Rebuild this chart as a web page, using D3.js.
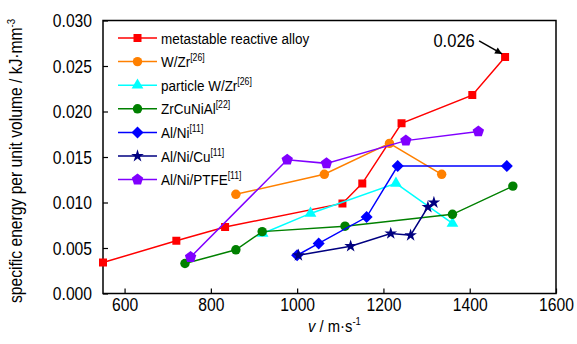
<!DOCTYPE html>
<html>
<head>
<meta charset="utf-8">
<script src="https://cdn.jsdelivr.net/npm/d3@7"></script>
<style>
  body { margin: 0; background: #fff; }
  svg text { font-family: "Liberation Sans", Arial, sans-serif; fill: #000; }
</style>
</head>
<body>
<svg id="chart" width="577" height="344"></svg>
<script>
// series data: velocity (m/s) and specific energy (kJ/mm^3)
const seriesNames = ['metastable reactive alloy', 'W/Zr', 'particle W/Zr', 'ZrCuNiAl', 'Al/Ni', 'Al/Ni/Cu', 'Al/Ni/PTFE'];
const seriesRefs = ['', '[26]', '[26]', '[22]', '[11]', '[11]', '[11]'];
const seriesColors = ['#ff0000', '#ff8000', '#00ffff', '#008000', '#0000ff', '#000080', '#8000ff'];
const seriesMarkers = ['square', 'circle', 'triangle', 'circle', 'diamond', 'star', 'pentagon'];

const alloyV = [550, 720, 833, 1105, 1151, 1242, 1406, 1482];
const alloyE = [0.0034, 0.0058, 0.0073, 0.0099, 0.0121, 0.0187, 0.0218, 0.026];
const wzrV = [858, 1063, 1214, 1335];
const wzrE = [0.0109, 0.0131, 0.0165, 0.0131];
const particleV = [920, 1031, 1229, 1360];
const particleE = [0.0066, 0.0088, 0.0121, 0.0077];
const zrcuV = [740, 858, 919, 1111, 1360, 1500];
const zrcuE = [0.0033, 0.0048, 0.0068, 0.0074, 0.0087, 0.0118];
const alniV = [1000, 1050, 1161, 1233, 1486];
const alniE = [0.0042, 0.0055, 0.0084, 0.0140, 0.0140];
const alnicuV = [1003, 1124, 1217, 1263, 1303, 1317];
const alnicuE = [0.0042, 0.0052, 0.0066, 0.0064, 0.0095, 0.0100];
const ptfeV = [753, 977, 1068, 1252, 1420];
const ptfeE = [0.0040, 0.0147, 0.0143, 0.0168, 0.0178];

const allV = [alloyV, wzrV, particleV, zrcuV, alniV, alnicuV, ptfeV];
const allE = [alloyE, wzrE, particleE, zrcuE, alniE, alnicuE, ptfeE];

const xTicks = [600, 800, 1000, 1200, 1400, 1600];
const yTicks = [0, 0.005, 0.010, 0.015, 0.020, 0.025, 0.030];
const peakLabel = '0.026';

const svg = d3.select('#chart');
const plotLeft = 103, plotRight = 556, plotTop = 20.5, plotBottom = 293.5;
const squeeze = 0.87; // narrow look of the original font

const x = d3.scaleLinear().domain([550, 1600]).range([plotLeft, plotRight]);
const y = d3.scaleLinear().domain([0, 0.030]).range([plotBottom, plotTop]);

// marker shapes
function markerPath(kind) {
  if (kind === 'square') return d3.symbol(d3.symbolSquare, 64)();
  if (kind === 'circle') return d3.symbol(d3.symbolCircle, 70)();
  if (kind === 'triangle') return d3.symbol(d3.symbolTriangle, 60)();
  if (kind === 'star') return d3.symbol(d3.symbolStar, 50)();
  if (kind === 'diamond') {
    const r = 6;
    return `M0,${-r}L${r},0L0,${r}L${-r},0Z`;
  }
  // pentagon
  const r = 6;
  const pts = d3.range(5).map(i => {
    const a = -Math.PI / 2 + i * 2 * Math.PI / 5;
    return [r * Math.cos(a), r * Math.sin(a)];
  });
  return 'M' + pts.map(p => p.join(',')).join('L') + 'Z';
}

// axes with inward ticks
const xAxis = svg.append('g')
  .attr('transform', `translate(0,${plotBottom})`)
  .call(d3.axisBottom(x).tickValues(xTicks).tickSizeInner(-5).tickSizeOuter(0).tickPadding(4).tickFormat(d3.format('d')));
xAxis.select('.domain').remove();
xAxis.selectAll('line').attr('stroke', '#000').attr('stroke-width', 1.2);
xAxis.selectAll('text')
  .style('font-size', '18px')
  .attr('y', 0).attr('dy', '18px')
  .attr('transform', `scale(${squeeze},1)`);

const yAxis = svg.append('g')
  .attr('transform', `translate(${plotLeft},0)`)
  .call(d3.axisLeft(y).tickValues(yTicks).tickSizeInner(-5).tickSizeOuter(0).tickFormat(d3.format('.3f')));
yAxis.select('.domain').remove();
yAxis.selectAll('line').attr('stroke', '#000').attr('stroke-width', 1.2);
yAxis.selectAll('text')
  .style('font-size', '18px')
  .attr('x', -11 / squeeze)
  .attr('dy', '0.36em')
  .attr('transform', `scale(${squeeze},1)`);

// frame
svg.append('rect')
  .attr('x', plotLeft).attr('y', plotTop)
  .attr('width', plotRight - plotLeft).attr('height', plotBottom - plotTop)
  .attr('fill', 'none').attr('stroke', '#000').attr('stroke-width', 1.5);

// series
svg.append('clipPath').attr('id', 'plotclip')
  .append('rect').attr('x', plotLeft - 6).attr('y', plotTop - 6)
  .attr('width', plotRight - plotLeft + 12).attr('height', plotBottom - plotTop + 12);

const line = d3.line().x(d => x(d[0])).y(d => y(d[1]));

seriesNames.forEach((name, i) => {
  const pts = allV[i].map((v, j) => [v, allE[i][j]]);
  const g = svg.append('g').attr('clip-path', 'url(#plotclip)');
  g.append('path')
    .datum(pts)
    .attr('d', line)
    .attr('fill', 'none')
    .attr('stroke', seriesColors[i])
    .attr('stroke-width', 1.5);
  g.selectAll('path.mk')
    .data(pts)
    .enter()
    .append('path')
    .attr('class', 'mk')
    .attr('d', markerPath(seriesMarkers[i]))
    .attr('transform', d => `translate(${x(d[0])},${y(d[1])})`)
    .attr('fill', seriesColors[i]);
});

// legend
const legend = svg.append('g').attr('transform', 'translate(118,38)');
seriesNames.forEach((name, i) => {
  const row = legend.append('g').attr('transform', `translate(0,${i * 23.6})`);
  row.append('line')
    .attr('x1', 0).attr('x2', 39).attr('y1', 0).attr('y2', 0)
    .attr('stroke', seriesColors[i]).attr('stroke-width', 1.5);
  row.append('path')
    .attr('d', markerPath(seriesMarkers[i]))
    .attr('transform', 'translate(19.5,0)')
    .attr('fill', seriesColors[i]);
  const t = row.append('text')
    .attr('transform', `translate(43,5.5) scale(${squeeze},1)`)
    .style('font-size', '15.5px');
  t.append('tspan').text(name);
  if (seriesRefs[i]) {
    t.append('tspan').text(seriesRefs[i]).attr('dy', '-6').style('font-size', '10px');
  }
});

// peak annotation
const px = x(alloyV[alloyV.length - 1]), py = y(alloyE[alloyE.length - 1]);
svg.append('defs').append('marker')
  .attr('id', 'arrow').attr('viewBox', '0 0 10 10')
  .attr('refX', 10).attr('refY', 5)
  .attr('markerWidth', 9).attr('markerHeight', 7)
  .attr('markerUnits', 'userSpaceOnUse')
  .attr('orient', 'auto')
  .append('path').attr('d', 'M0,0L10,5L0,10Z').attr('fill', '#000');
svg.append('line')
  .attr('x1', px - 26).attr('y1', py - 16)
  .attr('x2', px - 3).attr('y2', py - 3)
  .attr('stroke', '#000').attr('stroke-width', 1.5)
  .attr('marker-end', 'url(#arrow)');
svg.append('text')
  .attr('transform', `translate(${px - 51},${py - 10}) scale(${squeeze},1)`)
  .attr('text-anchor', 'middle')
  .style('font-size', '19px')
  .text(peakLabel);

// axis titles
const xt = svg.append('text')
  .attr('transform', `translate(${(plotLeft + plotRight) / 2 + 5},332) scale(${squeeze},1)`)
  .attr('text-anchor', 'middle')
  .style('font-size', '17px');
xt.append('tspan').text('v').style('font-style', 'italic');
xt.append('tspan').text(' / m·s');
xt.append('tspan').text('-1').attr('dy', '-7').style('font-size', '11px');

const yt = svg.append('text')
  .attr('transform', `translate(22,${(plotTop + plotBottom) / 2 + 4}) rotate(-90) scale(${squeeze},1)`)
  .attr('text-anchor', 'middle')
  .style('font-size', '18px');
yt.append('tspan').text('specific energy per unit volume / kJ·mm');
yt.append('tspan').text('-3').attr('dy', '-7').style('font-size', '11px');
</script>
</body>
</html>
